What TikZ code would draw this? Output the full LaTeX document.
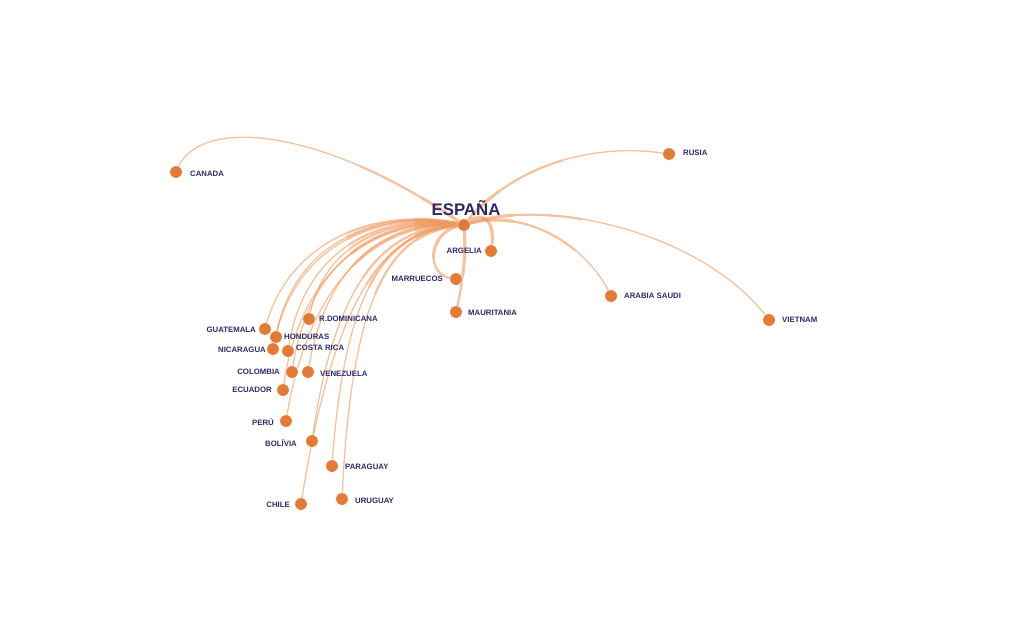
\documentclass[tikz,border=0pt]{standalone}
\usepackage{fontspec}
\setmainfont{Liberation Sans}
\pgfdeclarelayer{bottom}
\pgfdeclarelayer{background}
\pgfsetlayers{bottom,background,main}
\definecolor{dotc}{HTML}{E07B39}
\definecolor{txtc}{HTML}{2E2A66}
\definecolor{lnc}{HTML}{EE9A60}
\tikzset{
  dot/.style={circle,fill=dotc,draw=white,line width=0.4pt,minimum size=12.5pt,inner sep=0pt},
  lbl/.style={text=txtc,font=\fontsize{7.8}{9}\selectfont\bfseries,inner sep=0pt},
  lnkc/.style={draw=lnc,line width=1.3pt},
}
\newcommand\lnk[3]{%
  \begin{scope}[transparency group,opacity=0.6]
    \draw[lnkc] (esp.center) .. controls #2 and #3 .. (#1.center);
    \draw[lnkc,line width=2.2pt,dash pattern=on 120pt off 3000pt] (esp.center) .. controls #2 and #3 .. (#1.center);
    \draw[lnkc,line width=3.1pt,dash pattern=on 50pt off 3000pt] (esp.center) .. controls #2 and #3 .. (#1.center);
  \end{scope}}
\begin{document}
\begin{tikzpicture}[x=1pt,y=-1pt]
\begin{pgfonlayer}{bottom}
\fill[white] (0,0) rectangle (1024,616);
\end{pgfonlayer}
\useasboundingbox (0,0) rectangle (1024,616);
% dots
\node[dot] (esp) at (464,225) {};
\node[dot] (can) at (176,172) {};
\node[dot] (rus) at (669,154) {};
\node[dot] (arg) at (491,251) {};
\node[dot] (mar) at (456,279) {};
\node[dot] (mau) at (456,312) {};
\node[dot] (ara) at (611,296) {};
\node[dot] (vie) at (769,320) {};
\node[dot] (rdo) at (309,319) {};
\node[dot] (gua) at (265,329) {};
\node[dot] (hon) at (276,337) {};
\node[dot] (nic) at (273,349) {};
\node[dot] (cri) at (288,351) {};
\node[dot] (col) at (292,372) {};
\node[dot] (ven) at (308,372) {};
\node[dot] (ecu) at (283,390) {};
\node[dot] (per) at (286,421) {};
\node[dot] (bol) at (312,441) {};
\node[dot] (par) at (332,466) {};
\node[dot] (chi) at (301,504) {};
\node[dot] (uru) at (342,499) {};
% labels
\node[lbl,font=\fontsize{16.8}{18}\selectfont\bfseries] (tesp) at (466,208) {ESPAÑA};
\node[lbl,anchor=west] (tcan) at (190,174) {CANADA};
\node[lbl,anchor=west] (trus) at (683,153) {RUSIA};
\node[lbl,anchor=east] (targ) at (482,251) {ARGELIA};
\node[lbl,anchor=east] (tmar) at (443,279) {MARRUECOS};
\node[lbl,anchor=west] (tmau) at (468,313) {MAURITANIA};
\node[lbl,anchor=west] (tara) at (624,296) {ARABIA SAUDI};
\node[lbl,anchor=west] (tvie) at (782,320) {VIETNAM};
\node[lbl,anchor=west] (trdo) at (319,319) {R.DOMINICANA};
\node[lbl,anchor=east] (tgua) at (256,330) {GUATEMALA};
\node[lbl,anchor=west] (thon) at (284,337) {HONDURAS};
\node[lbl,anchor=east] (tnic) at (266,350) {NICARAGUA};
\node[lbl,anchor=west] (tcri) at (296,348) {COSTA RICA};
\node[lbl,anchor=east] (tcol) at (280,372) {COLOMBIA};
\node[lbl,anchor=west] (tven) at (320,374) {VENEZUELA};
\node[lbl,anchor=east] (tecu) at (272,390) {ECUADOR};
\node[lbl,anchor=east] (tper) at (274,422) {PERÚ};
\node[lbl,anchor=east] (tbol) at (297,443) {BOLÍVIA};
\node[lbl,anchor=west] (tpar) at (345,467) {PARAGUAY};
\node[lbl,anchor=east] (tchi) at (290,505) {CHILE};
\node[lbl,anchor=west] (turu) at (355,501) {URUGUAY};
% connectors
\begin{pgfonlayer}{background}
\lnk{can}{(320,125)}{(195,115)}
\lnk{rus}{(505,172)}{(585,140)}
\lnk{vie}{(545,195)}{(705,232)}
\lnk{ara}{(525,205)}{(590,248)}
\lnk{arg}{(488,205)}{(496,228)}
\lnk{mar}{(428,228)}{(422,278)}
\lnk{mau}{(467,260)}{(461,290)}
\lnk{gua}{(380,205)}{(288,238)}
\lnk{hon}{(380,206)}{(292,242)}
\lnk{nic}{(380,207)}{(290,245)}
\lnk{cri}{(382,210)}{(302,248)}
\lnk{rdo}{(388,214)}{(322,245)}
\lnk{col}{(385,214)}{(308,255)}
\lnk{ven}{(388,218)}{(325,262)}
\lnk{ecu}{(385,216)}{(300,258)}
\lnk{per}{(385,220)}{(310,270)}
\lnk{bol}{(388,224)}{(335,275)}
\lnk{chi}{(390,226)}{(335,285)}
\lnk{par}{(392,228)}{(345,275)}
\lnk{uru}{(395,230)}{(352,280)}
\end{pgfonlayer}
\end{tikzpicture}
\end{document}
